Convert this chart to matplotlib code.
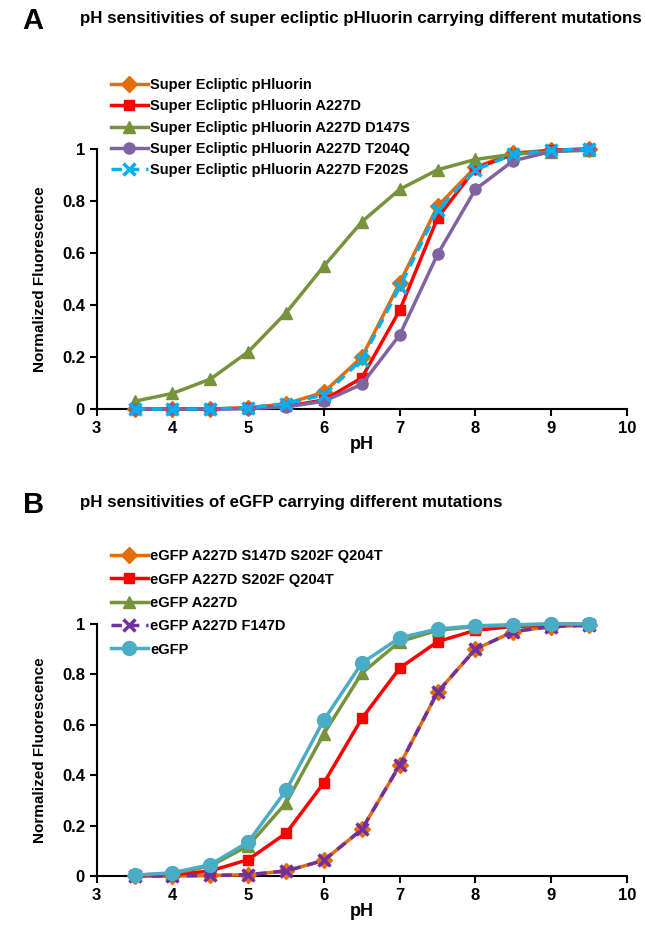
import numpy as np
import matplotlib
matplotlib.use("Agg")
import matplotlib.pyplot as plt

plt.rcParams['font.family'] = ['Liberation Sans', 'DejaVu Sans']
plt.rcParams['font.weight'] = 'bold'

# pH values shared by every series
ph = [3.5, 4, 4.5, 5, 5.5, 6, 6.5, 7, 7.5, 8, 8.5, 9, 9.5]

# Panel A - super ecliptic pHluorin
sep_labels = ["Super Ecliptic pHluorin",
              "Super Ecliptic pHluorin A227D",
              "Super Ecliptic pHluorin A227D D147S",
              "Super Ecliptic pHluorin A227D T204Q",
              "Super Ecliptic pHluorin A227D F202S"]
sep = [0, 0, 0, 0.005, 0.02, 0.065, 0.20, 0.485, 0.78, 0.93, 0.985, 0.995, 1.0]
sep_a227d = [0, 0, 0, 0.003, 0.01, 0.035, 0.12, 0.38, 0.735, 0.925, 0.98, 0.995, 1.0]
sep_d147s = [0.03, 0.06, 0.115, 0.22, 0.37, 0.55, 0.72, 0.845, 0.92, 0.96, 0.98, 0.99, 0.995]
sep_t204q = [0, 0, 0, 0.002, 0.008, 0.03, 0.095, 0.285, 0.595, 0.845, 0.955, 0.99, 1.0]
sep_f202s = [0, 0, 0, 0.005, 0.02, 0.055, 0.19, 0.47, 0.765, 0.92, 0.98, 0.995, 1.0]

# Panel B - eGFP
egfp_labels = ["eGFP A227D S147D S202F Q204T",
               "eGFP A227D S202F Q204T",
               "eGFP A227D",
               "eGFP A227D F147D",
               "eGFP"]
egfp_quad = [0, 0, 0.002, 0.005, 0.02, 0.062, 0.185, 0.44, 0.73, 0.90, 0.97, 0.99, 0.995]
egfp_triple = [0, 0.005, 0.02, 0.065, 0.17, 0.37, 0.625, 0.825, 0.93, 0.975, 0.99, 0.995, 1.0]
egfp_a227d = [0.003, 0.01, 0.04, 0.12, 0.29, 0.565, 0.805, 0.93, 0.975, 0.99, 0.995, 1.0, 1.0]
egfp_f147d = [0, 0, 0.002, 0.005, 0.02, 0.062, 0.185, 0.44, 0.73, 0.90, 0.97, 0.99, 0.995]
egfp_wt = [0.003, 0.013, 0.045, 0.135, 0.34, 0.62, 0.845, 0.945, 0.98, 0.993, 0.997, 1.0, 1.0]

ORANGE = '#E46C0A'
RED = '#FF0000'
GREEN = '#77933C'
PURPLE = '#8064A2'
CYAN = '#00B0F0'
TEAL = '#4BACC6'
VIOLET = '#7030A0'


def style_axes(ax):
    ax.set_xlim(3, 10)
    ax.set_ylim(0, 1)
    ax.set_xticks(range(3, 11))
    ax.set_yticks([0, 0.2, 0.4, 0.6, 0.8, 1])
    ax.set_yticklabels(['0', '0.2', '0.4', '0.6', '0.8', '1'])
    for s in ['top', 'right']:
        ax.spines[s].set_visible(False)
    for s in ['left', 'bottom']:
        ax.spines[s].set_linewidth(1.5)
    ax.tick_params(direction='out', length=5, width=1.5, labelsize=12)
    for t in ax.get_xticklabels() + ax.get_yticklabels():
        t.set_fontweight('bold')
    ax.set_xlabel('pH', fontsize=13, fontweight='bold', labelpad=0)
    ax.set_ylabel('Normalized Fluorescence', fontsize=11, fontweight='bold', labelpad=11)


fig = plt.figure(figsize=(6.45, 9.33), dpi=100)

# ---- Panel A ----
axA = fig.add_axes([0.150, 0.5616, 0.822, 0.2787])
seriesA = [
    (sep, ORANGE, 'D', '-', 8),
    (sep_a227d, RED, 's', '-', 7),
    (sep_d147s, GREEN, '^', '-', 8),
    (sep_t204q, PURPLE, 'o', '-', 8),
    (sep_f202s, CYAN, 'x', (0, (3, 2)), 9),
]
for (vals, col, mk, ls, ms), lab in zip(seriesA, sep_labels):
    axA.plot(ph, vals, color=col, marker=mk, linestyle=ls, lw=2.5, ms=ms,
             mew=2.5 if mk == 'x' else 1, label=lab, clip_on=False, zorder=3)
style_axes(axA)
axA.legend(loc='upper left', bbox_to_anchor=(0.015, 1.295), frameon=False,
           handlelength=2.6, handletextpad=0.1,
           labelspacing=0.5, borderaxespad=0, prop={'weight': 'bold', 'size': 10.5})

fig.text(0.035, 0.978, 'A', fontsize=21, fontweight='bold', va='center')
fig.text(0.124, 0.980, 'pH sensitivities of super ecliptic pHluorin carrying different mutations',
         fontsize=12.2, fontweight='bold', va='center')

# ---- Panel B ----
axB = fig.add_axes([0.150, 0.0611, 0.822, 0.2701])
seriesB = [
    (egfp_quad, ORANGE, 'D', '-', 8),
    (egfp_triple, RED, 's', '-', 7),
    (egfp_a227d, GREEN, '^', '-', 8),
    (egfp_f147d, VIOLET, 'x', (0, (3, 2)), 9),
    (egfp_wt, TEAL, 'o', '-', 10),
]
for (vals, col, mk, ls, ms), lab in zip(seriesB, egfp_labels):
    axB.plot(ph, vals, color=col, marker=mk, linestyle=ls, lw=2.5, ms=ms,
             mew=2.5 if mk == 'x' else 1, label=lab, clip_on=False, zorder=3)
style_axes(axB)
axB.legend(loc='upper left', bbox_to_anchor=(0.015, 1.32), frameon=False,
           handlelength=2.6, handletextpad=0.1,
           labelspacing=0.64, borderaxespad=0, prop={'weight': 'bold', 'size': 10.5})

fig.text(0.035, 0.459, 'B', fontsize=21, fontweight='bold', va='center')
fig.text(0.124, 0.461, 'pH sensitivities of eGFP carrying different mutations',
         fontsize=12.2, fontweight='bold', va='center')

fig.savefig('out.png', dpi=100)
